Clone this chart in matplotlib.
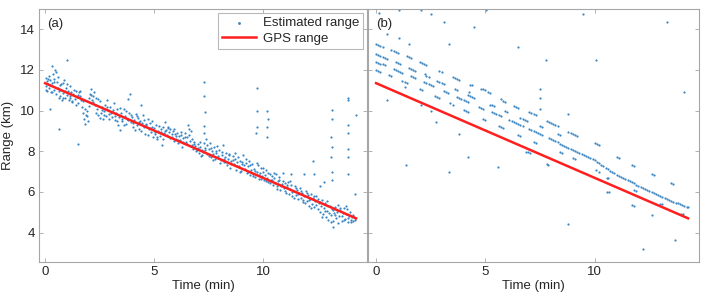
import numpy as np
import matplotlib
matplotlib.use('Agg')
import matplotlib.pyplot as plt

plt.rcParams['font.family'] = ['Liberation Sans', 'DejaVu Sans']
plt.rcParams['font.size'] = 9.5

# %% GPS range (same track in both panels)
gps_t = [0.0, 14.27]
gps_y = [11.35, 4.70]

# %% (a) estimated range as (time, range)
est_a = [
    (0.02, 11.6), (0.05, 11.2), (0.08, 11.45), (0.1, 10.95), (0.13, 11.3), (0.16, 11.7),
    (0.2, 11.1), (0.23, 11.5), (0.27, 10.9), (0.3, 11.35), (0.33, 12.2), (0.36, 11.8),
    (0.4, 11.0), (0.43, 11.55), (0.46, 12.0), (0.5, 10.8), (0.53, 11.4), (0.57, 11.1),
    (0.6, 11.65), (0.63, 10.6), (0.67, 11.25), (0.7, 10.7), (0.73, 11.0), (0.77, 10.5),
    (0.8, 11.35), (0.84, 10.85), (0.88, 11.5), (0.92, 10.6), (0.96, 11.1), (1.0, 10.75),
    (1.04, 10.95), (1.08, 10.5), (1.12, 11.2), (1.16, 10.7), (1.2, 10.9), (1.25, 10.45),
    (1.3, 10.8), (1.35, 10.55), (1.4, 10.95), (1.45, 10.65), (1.5, 10.35), (1.55, 10.9),
    (1.6, 10.7), (1.65, 10.5), (1.7, 10.2), (1.75, 9.9), (1.8, 9.6), (1.83, 9.35),
    (1.87, 9.8), (1.9, 10.0), (1.95, 9.5), (2.0, 10.6), (2.05, 10.8), (2.1, 11.05),
    (2.15, 10.5), (2.2, 10.7), (2.25, 10.9), (2.3, 10.3), (2.35, 10.6), (2.4, 10.1),
    (2.45, 9.8), (2.5, 10.45), (2.55, 9.9), (2.6, 10.2), (2.65, 9.6), (2.7, 10.0),
    (2.75, 10.3), (2.8, 9.75), (2.85, 10.5), (2.9, 10.05), (2.95, 9.85), (3.0, 10.2),
    (3.05, 9.7), (3.1, 9.95), (3.15, 10.35), (3.2, 9.55), (3.25, 9.9), (3.3, 10.1),
    (3.35, 9.3), (3.4, 9.7), (3.45, 9.05), (3.5, 9.9), (3.55, 9.5), (3.6, 10.1),
    (3.65, 9.75), (3.7, 9.35), (3.75, 9.6), (3.8, 10.55), (3.85, 9.9), (3.9, 10.8),
    (3.95, 9.45), (4.0, 9.7), (4.05, 9.2), (4.1, 9.55), (4.15, 9.85), (4.2, 9.3),
    (4.25, 9.65), (4.3, 9.1), (4.35, 9.5), (4.4, 10.3), (4.45, 9.4), (4.5, 9.8),
    (4.55, 9.2), (4.6, 8.85), (4.65, 9.35), (4.7, 9.6), (4.75, 9.1), (4.8, 9.4),
    (4.85, 8.95), (4.9, 9.2), (4.95, 8.7), (5.0, 9.15), (5.05, 8.85), (5.1, 9.3),
    (5.15, 8.6), (5.2, 9.0), (5.25, 8.75), (5.3, 9.1), (5.35, 8.3), (5.4, 9.2),
    (5.45, 8.9), (5.5, 9.45), (5.55, 9.05), (5.6, 8.8), (5.65, 9.2), (5.7, 8.95),
    (5.75, 9.1), (5.8, 8.7), (5.85, 9.0), (5.9, 8.5), (5.95, 8.85), (6.0, 8.6),
    (6.05, 8.9), (6.1, 8.4), (6.15, 8.75), (6.2, 8.55), (6.25, 8.8), (6.3, 8.2),
    (6.35, 8.65), (6.4, 8.9), (6.45, 8.45), (6.5, 8.7), (6.55, 9.3), (6.6, 8.8),
    (6.65, 8.5), (6.7, 9.0), (6.75, 8.3), (6.8, 8.1), (6.85, 8.45), (6.9, 8.25),
    (6.95, 8.05), (7.0, 8.35), (7.05, 7.9), (7.1, 8.2), (7.15, 7.75), (7.2, 8.05),
    (7.25, 7.95), (7.3, 8.4), (7.35, 8.15), (7.4, 8.6), (7.45, 7.85), (7.5, 8.1),
    (7.55, 8.4), (7.6, 7.7), (7.65, 8.0), (7.7, 7.85), (7.75, 8.2), (7.8, 7.6),
    (7.85, 7.9), (7.9, 8.25), (7.95, 7.75), (8.0, 8.05), (8.05, 7.55), (8.1, 7.8),
    (8.15, 8.3), (8.2, 7.45), (8.25, 7.7), (8.3, 7.9), (8.35, 7.3), (8.4, 7.6),
    (8.45, 7.85), (8.5, 7.2), (8.55, 7.5), (8.6, 7.75), (8.65, 7.35), (8.7, 7.6),
    (8.75, 7.1), (8.8, 7.45), (8.85, 7.7), (8.9, 7.25), (8.95, 7.5), (9.0, 7.05),
    (9.05, 7.35), (9.1, 7.8), (9.15, 7.15), (9.2, 7.4), (9.25, 6.95), (9.3, 7.25),
    (9.35, 7.5), (9.4, 6.85), (9.45, 7.1), (9.5, 7.35), (9.55, 6.9), (9.6, 7.15),
    (9.65, 6.75), (9.7, 7.0), (9.75, 7.3), (9.8, 6.65), (9.85, 6.95), (9.9, 7.2),
    (9.95, 6.8), (10.0, 7.0), (10.05, 6.6), (10.1, 6.85), (10.15, 7.1), (10.2, 6.7),
    (10.25, 6.5), (10.3, 6.9), (10.35, 6.6), (10.4, 6.8), (10.45, 6.35), (10.5, 6.7),
    (10.55, 6.45), (10.6, 6.9), (10.65, 6.3), (10.7, 6.55), (10.75, 6.75), (10.8, 6.1),
    (10.85, 6.4), (10.9, 6.95), (10.95, 6.2), (11.0, 6.45), (11.05, 5.95), (11.1, 6.25),
    (11.15, 6.5), (11.2, 5.9), (11.25, 6.15), (11.3, 6.35), (11.35, 5.8), (11.4, 6.05),
    (11.45, 6.3), (11.5, 5.85), (11.55, 6.1), (11.6, 5.65), (11.65, 5.95), (11.7, 6.2),
    (11.75, 5.7), (11.8, 5.95), (11.85, 5.5), (11.9, 5.8), (11.95, 6.05), (12.0, 5.55),
    (12.05, 5.85), (12.1, 5.3), (12.15, 5.65), (12.2, 5.9), (12.25, 5.4), (12.3, 5.7),
    (12.35, 5.25), (12.4, 5.55), (12.45, 5.8), (12.5, 5.15), (12.55, 5.45), (12.6, 5.0),
    (12.65, 5.3), (12.7, 5.6), (12.75, 4.9), (12.8, 5.2), (12.85, 5.45), (12.9, 4.75),
    (12.95, 5.05), (13.0, 4.6), (13.05, 5.3), (13.1, 4.85), (13.15, 5.15), (13.2, 4.55),
    (13.25, 4.95), (13.3, 5.25), (13.35, 4.7), (13.4, 5.0), (13.45, 5.35), (13.5, 4.8),
    (13.55, 5.1), (13.6, 4.55), (13.65, 4.95), (13.7, 5.2), (13.75, 4.65), (13.8, 4.9),
    (13.85, 5.15), (13.9, 4.5), (13.95, 4.8), (14.0, 5.0), (14.05, 4.6), (14.1, 4.75),
    (14.15, 4.55), (14.2, 4.7),
]

# second pass over the same band (picture is denser than one list)
est_a2 = [
    (0.03, 11.0), (0.12, 11.55), (0.22, 11.25), (0.31, 10.9), (0.41, 11.4), (0.52, 11.9),
    (0.62, 10.95), (0.72, 11.3), (0.81, 10.6), (0.91, 10.95), (1.02, 11.3), (1.12, 10.6),
    (1.22, 10.4), (1.32, 11.0), (1.42, 10.3), (1.52, 10.75), (1.62, 10.95), (1.72, 10.45),
    (1.82, 10.1), (1.92, 9.75), (2.02, 10.25), (2.12, 10.75), (2.22, 10.4), (2.32, 9.9),
    (2.42, 10.55), (2.52, 9.65), (2.62, 10.05), (2.72, 9.8), (2.82, 10.2), (2.92, 9.6),
    (3.02, 9.9), (3.12, 10.05), (3.22, 9.75), (3.32, 9.5), (3.42, 10.15), (3.52, 9.6),
    (3.62, 9.3), (3.72, 10.0), (3.82, 9.55), (3.92, 9.8), (4.02, 9.4), (4.12, 9.05),
    (4.22, 9.75), (4.32, 9.45), (4.42, 9.0), (4.52, 9.55), (4.62, 9.3), (4.72, 8.8),
    (4.82, 9.15), (4.92, 9.5), (5.02, 8.95), (5.12, 8.7), (5.22, 9.25), (5.32, 8.95),
    (5.42, 8.6), (5.52, 9.0), (5.62, 9.15), (5.72, 8.65), (5.82, 8.85), (5.92, 9.1),
    (6.02, 8.75), (6.12, 8.55), (6.22, 8.95), (6.32, 8.45), (6.42, 8.7), (6.52, 8.35),
    (6.62, 9.1), (6.72, 8.6), (6.82, 8.35), (6.92, 8.0), (7.02, 8.15), (7.12, 8.45),
    (7.22, 7.8), (7.32, 8.05), (7.42, 8.3), (7.52, 7.75), (7.62, 8.15), (7.72, 7.55),
    (7.82, 8.0), (7.92, 7.65), (8.02, 7.4), (8.12, 7.95), (8.22, 7.6), (8.32, 7.45),
    (8.42, 7.8), (8.52, 7.35), (8.62, 7.55), (8.72, 7.9), (8.82, 7.25), (8.92, 7.0),
    (9.02, 7.45), (9.12, 7.3), (9.22, 7.6), (9.32, 7.0), (9.42, 7.3), (9.52, 6.8),
    (9.62, 7.05), (9.72, 7.4), (9.82, 6.85), (9.92, 6.65), (10.02, 7.2), (10.12, 6.55),
    (10.22, 6.95), (10.32, 6.45), (10.42, 6.6), (10.52, 6.95), (10.62, 6.15), (10.72, 6.6),
    (10.82, 6.3), (10.92, 6.55), (11.02, 6.05), (11.12, 6.35), (11.22, 6.55), (11.32, 6.0),
    (11.42, 5.7), (11.52, 6.2), (11.62, 5.9), (11.72, 6.05), (11.82, 5.6), (11.92, 5.45),
    (12.02, 5.95), (12.12, 5.6), (12.22, 5.2), (12.32, 5.8), (12.42, 5.35), (12.52, 5.65),
    (12.62, 5.5), (12.72, 4.75), (12.82, 5.05), (12.92, 5.55), (13.02, 4.95), (13.12, 4.5),
    (13.22, 5.1), (13.32, 4.85), (13.42, 4.45), (13.52, 5.2), (13.62, 4.8), (13.72, 4.6),
    (13.82, 5.3), (13.92, 4.7), (14.02, 4.5), (14.12, 4.85), (14.22, 4.6),
]

# outliers in (a)
out_a = [
    (0.23, 10.1), (0.66, 9.1), (1.0, 12.5), (1.5, 8.35), (7.3, 11.4), (7.3, 10.7),
    (7.32, 9.95), (7.3, 9.25), (7.28, 8.9), (9.7, 11.1), (9.72, 10.0), (9.7, 9.2),
    (9.68, 8.9), (10.2, 10.0), (10.22, 9.6), (10.2, 9.2), (10.18, 8.7), (12.3, 7.5),
    (12.35, 6.9), (13.15, 10.05), (13.15, 9.6), (13.12, 8.7), (13.15, 8.2), (13.1, 7.7),
    (13.15, 7.0), (13.18, 6.6), (13.9, 10.6), (13.92, 10.5), (13.88, 9.3), (13.9, 8.9),
    (13.92, 8.1), (13.9, 7.7), (13.9, 6.9), (14.25, 9.8), (14.2, 5.9), (13.2, 4.25),
    (11.9, 6.9), (12.6, 6.3), (11.3, 6.9), (12.8, 6.5),
]

# %% (b) estimated range: separate tracks
row_top = [
    (0.0, 13.3), (0.1, 13.25), (0.2, 13.2), (0.3, 13.15), (0.7, 12.98), (0.8, 12.94),
    (0.9, 12.89), (1.0, 12.85), (1.4, 12.67), (1.5, 12.62), (1.6, 12.58), (2.0, 12.4),
    (2.1, 12.35), (2.2, 12.3), (2.3, 12.25), (2.9, 11.95), (3.0, 11.9), (3.5, 11.65),
    (3.6, 11.6), (3.7, 11.55), (3.8, 11.5), (4.3, 11.28), (4.4, 11.24), (4.8, 11.08),
    (4.9, 11.04), (5.0, 11.0), (5.1, 10.94), (5.2, 10.87), (5.7, 10.55), (5.8, 10.48),
    (5.9, 10.42), (6.3, 10.23), (6.4, 10.19), (6.5, 10.15), (7.0, 9.95), (7.1, 9.9),
    (7.2, 9.84), (7.3, 9.79), (7.8, 9.51), (7.9, 9.46), (8.0, 9.4), (8.1, 9.35),
    (8.2, 9.29), (8.3, 9.24), (8.8, 8.96), (8.9, 8.9), (9.0, 8.85), (9.1, 8.79),
    (9.2, 8.74), (10.0, 8.42), (10.1, 8.38), (10.2, 8.32), (11.0, 7.72), (11.1, 7.67),
    (11.7, 7.33), (11.8, 7.29), (12.6, 6.87), (12.7, 6.83), (13.5, 6.42), (13.6, 6.38),
]
row_second = [
    (0.0, 12.8), (0.1, 12.75), (0.2, 12.7), (0.3, 12.66), (0.4, 12.61), (0.5, 12.56),
    (0.9, 12.37), (1.0, 12.32), (1.1, 12.27), (1.5, 12.08), (1.6, 12.03), (1.7, 11.98),
    (1.8, 11.94), (2.3, 11.7), (2.4, 11.65), (2.8, 11.45), (2.9, 11.4), (3.0, 11.35),
    (3.1, 11.3), (3.6, 11.06), (3.7, 11.01), (4.2, 10.76), (4.3, 10.71), (4.4, 10.66),
    (4.5, 10.62), (5.2, 10.3), (5.3, 10.26), (5.4, 10.21), (5.9, 9.99), (6.0, 9.95),
    (6.6, 9.66), (6.7, 9.61), (6.8, 9.55), (6.9, 9.5), (7.5, 9.22), (7.6, 9.18),
    (8.3, 8.86), (8.4, 8.8),
]
row_main = [
    (0.0, 12.4), (0.1, 12.36), (0.2, 12.31), (0.3, 12.27), (0.4, 12.22), (0.8, 12.04),
    (0.9, 12.0), (1.0, 11.95), (1.1, 11.91), (1.2, 11.86), (1.6, 11.68), (1.7, 11.63),
    (1.8, 11.59), (2.2, 11.4), (2.3, 11.35), (2.4, 11.3), (2.5, 11.25), (2.6, 11.2),
    (3.1, 10.95), (3.2, 10.9), (3.3, 10.85), (3.7, 10.65), (3.8, 10.6), (3.9, 10.55),
    (4.0, 10.5), (4.1, 10.46), (4.2, 10.41), (4.7, 10.19), (4.8, 10.14), (4.9, 10.1),
    (5.3, 9.91), (5.4, 9.87), (5.5, 9.82), (5.6, 9.78), (5.7, 9.73), (6.1, 9.55),
    (6.2, 9.5), (6.3, 9.45), (6.4, 9.4), (6.5, 9.35), (6.6, 9.3), (6.7, 9.25),
    (7.0, 9.1), (7.1, 9.05), (7.2, 9.0), (7.3, 8.95), (7.4, 8.9), (7.5, 8.85),
    (7.6, 8.8), (7.9, 8.65), (8.0, 8.6), (8.1, 8.55), (8.2, 8.49), (8.3, 8.44),
    (8.4, 8.38), (8.5, 8.32), (8.6, 8.26), (8.7, 8.2), (8.8, 8.15), (8.9, 8.1),
    (9.0, 8.05), (9.1, 8.0), (9.2, 7.96), (9.3, 7.91), (9.4, 7.87), (9.5, 7.82),
    (9.6, 7.77), (9.7, 7.71), (9.8, 7.66), (9.9, 7.6), (10.0, 7.55), (10.1, 7.49),
    (10.2, 7.42), (10.3, 7.34), (10.4, 7.26), (10.5, 7.2), (10.6, 7.12), (10.7, 7.05),
    (10.8, 6.98), (10.9, 6.91), (11.0, 6.85), (11.1, 6.8), (11.2, 6.75), (11.3, 6.7),
    (11.4, 6.65), (11.5, 6.6), (11.6, 6.54), (11.7, 6.48), (11.8, 6.42), (11.9, 6.36),
    (12.0, 6.3), (12.1, 6.25), (12.2, 6.2), (12.3, 6.15), (12.4, 6.1), (12.5, 6.05),
    (12.6, 6.0), (12.7, 5.95), (12.8, 5.9), (12.9, 5.85), (13.0, 5.8), (13.1, 5.75),
    (13.2, 5.7), (13.3, 5.65), (13.4, 5.6), (13.5, 5.55), (13.6, 5.51), (13.7, 5.47),
    (13.8, 5.43), (13.9, 5.39), (14.0, 5.35), (14.1, 5.31), (14.2, 5.27), (14.25, 5.25),
]
row_low = [
    (0.0, 12.0), (0.1, 11.96), (0.2, 11.91), (0.6, 11.74), (0.7, 11.7), (1.2, 11.45),
    (1.3, 11.4), (1.4, 11.35), (2.0, 11.05), (2.1, 11.0), (2.7, 10.7), (2.8, 10.65),
    (2.9, 10.6), (3.4, 10.35), (3.5, 10.3), (4.0, 10.05), (4.1, 10.0), (4.2, 9.95),
    (4.9, 9.6), (5.0, 9.55), (5.6, 9.25), (5.7, 9.2), (5.8, 9.15), (6.5, 8.8),
    (6.6, 8.75), (6.87, 7.97), (6.95, 7.95), (7.02, 7.92), (7.2, 8.45), (7.3, 8.4),
    (7.8, 7.35), (7.88, 7.3), (8.4, 7.95), (8.5, 7.9), (9.0, 7.65), (9.1, 7.6),
    (10.08, 7.06), (10.18, 7.0), (10.55, 6.7), (10.62, 6.68), (10.55, 6.0), (10.65, 5.98),
    (11.7, 5.34), (11.78, 5.29), (11.8, 6.08), (11.9, 6.05), (12.6, 4.85), (13.0, 5.41),
    (13.07, 5.39), (13.94, 4.92), (14.02, 4.9),
]
out_b = [
    (3.12, 14.36), (4.5, 14.1), (6.5, 13.13), (7.78, 12.47), (10.07, 12.47), (3.35, 13.3),
    (13.3, 14.36), (14.1, 10.92), (7.48, 11.08), (7.5, 10.6), (7.48, 10.1), (8.78, 9.85),
    (1.36, 7.31), (3.35, 6.98), (4.2, 7.72), (5.58, 7.23), (8.78, 4.44), (12.2, 3.21),
    (13.65, 3.62), (0.5, 10.5), (2.05, 10.26), (2.74, 9.44), (3.8, 8.87), (2.5, 10.0),
    (0.15, 14.82), (1.06, 14.95), (2.05, 14.95), (2.5, 14.75), (5.05, 14.95), (9.48, 14.75),
    (1.05, 13.55), (1.5, 13.3), (0.5, 13.75), (4.27, 10.92), (1.3, 11.15), (2.25, 11.8),
]

blue = '#3a86c4'
red = '#ff1f1f'
frame = '#a6a6a6'
txt = '#262626'

fig = plt.figure(figsize=(7.07, 2.98), dpi=100)
ax_a = fig.add_axes([39 / 707, 36 / 298, 328 / 707, 253 / 298])
ax_b = fig.add_axes([368 / 707, 36 / 298, 331 / 707, 253 / 298])

t_a, y_a = np.array(est_a + est_a2 + out_a).T
ax_a.scatter(t_a, y_a, s=2.5, c=blue, marker='o', linewidths=0, label='Estimated range')
ax_a.plot(gps_t, gps_y, color=red, lw=1.8, label='GPS range')

for rows in (row_top, row_second, row_main, row_low, out_b):
    tt, yy = np.array(rows).T
    ax_b.scatter(tt, yy, s=2.5, c=blue, marker='o', linewidths=0)
ax_b.plot(gps_t, gps_y, color=red, lw=1.8)

# cosmetics
for ax, lab in ((ax_a, '(a)'), (ax_b, '(b)')):
    ax.set_ylim(2.55, 15)
    ax.set_xticks([0, 5, 10])
    ax.set_yticks([4, 6, 8, 10, 12, 14])
    ax.tick_params(direction='in', length=3, width=0.6, color=frame,
                   top=True, right=True, labelcolor=txt, pad=3)
    for sp in ax.spines.values():
        sp.set_color(frame)
        sp.set_linewidth(0.8)
    ax.set_xlabel('Time (min)', color=txt, labelpad=1)
    ax.text(0.025, 0.965, lab, transform=ax.transAxes, ha='left', va='top', color=txt)

ax_a.set_xlim(-0.28, 14.77)
ax_b.set_xlim(-0.37, 14.77)
ax_b.tick_params(labelleft=False)
ax_a.set_ylabel('Range (km)', color=txt, labelpad=4)

lgd = ax_a.legend(loc='upper right', frameon=True, fancybox=False, edgecolor=frame,
                  borderaxespad=0.3, handlelength=2.6, handletextpad=0.5,
                  borderpad=0.3, labelspacing=0.25, markerscale=1.3)
lgd.get_frame().set_linewidth(0.8)
for t in lgd.get_texts():
    t.set_color(txt)

fig.savefig('out.png', dpi=100)
